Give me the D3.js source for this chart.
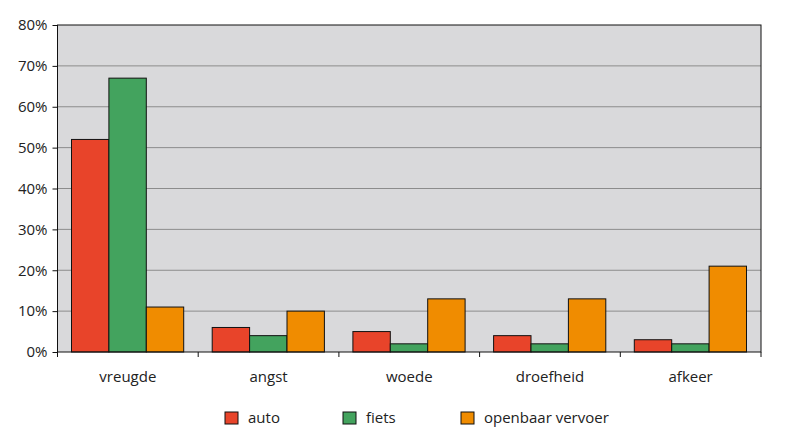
<!DOCTYPE html>
<html><head><meta charset="utf-8">
<script src="https://cdn.jsdelivr.net/npm/d3@7"></script>
<style>body{margin:0;background:#fff}svg{display:block}text{font-family:"Open Sans",sans-serif;fill:#222}</style>
</head><body><svg id="c" width="787" height="448"></svg>
<script>
const categories = ["vreugde","angst","woede","droefheid","afkeer"];
const seriesNames = ["auto","fiets","openbaar vervoer"];
const auto = [52,6,5,4,3];
const fiets = [67,4,2,2,2];
const ov = [11,10,13,13,21];
const yTicks = [0,10,20,30,40,50,60,70,80];
const colors = ["#e8442a","#43a35e","#f08c00"];
const seriesVals = [auto,fiets,ov];

const svg = d3.select("#c");
const L=57.5,R=761,T=25,B=352;
const x = d3.scaleBand().domain(categories).range([L,R]).paddingInner(0).paddingOuter(0);
const y = d3.scaleLinear().domain([0,80]).range([B,T]);
const inner = d3.scaleBand().domain(seriesNames).range([14, x.bandwidth()-14.5]);

svg.append("rect").attr("x",L).attr("y",T).attr("width",R-L).attr("height",B-T).attr("fill","#d9d9db");
svg.append("g").selectAll("line").data(yTicks.filter(d=>d>0&&d<80)).join("line")
  .attr("x1",L).attr("x2",R).attr("y1",d=>y(d)).attr("y2",d=>y(d)).attr("stroke","#8c8c8c").attr("stroke-width",1);

seriesNames.forEach((s,i)=>{
  svg.append("g").selectAll("rect").data(categories).join("rect")
    .attr("x",(c)=>x(c)+inner(s)).attr("width",inner.bandwidth())
    .attr("y",(c,j)=>y(seriesVals[i][j])).attr("height",(c,j)=>B-y(seriesVals[i][j]))
    .attr("fill",colors[i]).attr("stroke","#111").attr("stroke-width",1);
});

svg.append("rect").attr("x",L).attr("y",T).attr("width",R-L).attr("height",B-T).attr("fill","none").attr("stroke","#111").attr("stroke-width",1);

const ya = d3.axisLeft(y).tickValues(yTicks).tickFormat(d=>d+"%").tickSize(5).tickPadding(5);
const yg = svg.append("g").attr("transform",`translate(${L},0)`).call(ya);
yg.select(".domain").remove();
yg.selectAll("line").attr("stroke","#111");
yg.selectAll("text").attr("font-size",15).style("fill","#222");

const xg = svg.append("g").attr("transform",`translate(0,${B})`);
xg.selectAll("line").data(d3.range(categories.length+1)).join("line")
  .attr("x1",i=>L+i*x.bandwidth()).attr("x2",i=>L+i*x.bandwidth()).attr("y1",0).attr("y2",5).attr("stroke","#111");
xg.selectAll("text").data(categories).join("text")
  .attr("x",c=>x(c)+x.bandwidth()/2).attr("y",30).attr("text-anchor","middle").attr("font-size",15).text(c=>c);

const legX=[225,343,461];
const lg = svg.append("g");
seriesNames.forEach((s,i)=>{
  lg.append("rect").attr("x",legX[i]).attr("y",412).attr("width",13).attr("height",12).attr("fill",colors[i]).attr("stroke","#111");
  lg.append("text").attr("x",legX[i]+23).attr("y",423).attr("font-size",15).text(s);
});
</script></body></html>
